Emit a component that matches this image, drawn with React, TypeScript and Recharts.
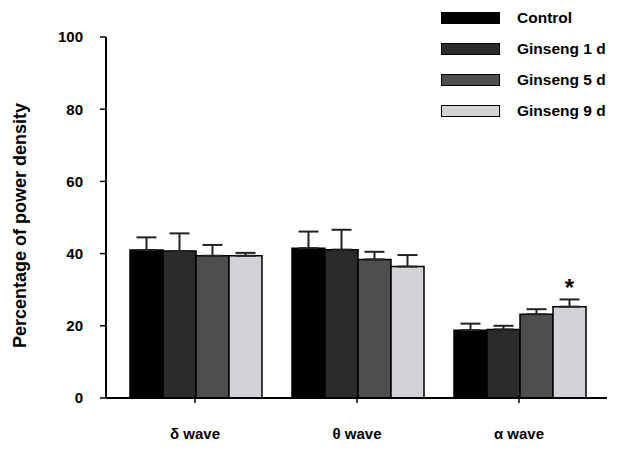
import { Bar, BarChart, ErrorBar, LabelList, XAxis, YAxis } from "recharts"

const categories = ["δ wave", "θ wave", "α wave"]

const control = [41.0, 41.5, 18.8]
const ginseng1 = [40.7, 41.1, 19.0]
const ginseng5 = [39.4, 38.4, 23.2]
const ginseng9 = [39.4, 36.4, 25.3]

// upper SEM only, the graph draws half error bars
const controlErr = [3.5, 4.6, 1.8]
const ginseng1Err = [4.9, 5.5, 1.0]
const ginseng5Err = [3.0, 2.1, 1.4]
const ginseng9Err = [0.8, 3.2, 2.0]

const marks = ["", "", "*"]

const yTicks = [0, 20, 40, 60, 80, 100]

const series = [
  { key: "control", name: "Control", fill: "#000000" },
  { key: "g1", name: "Ginseng 1 d", fill: "#2b2b2b" },
  { key: "g5", name: "Ginseng 5 d", fill: "#4e4e4e" },
  { key: "g9", name: "Ginseng 9 d", fill: "#d2d3d6" },
]

const data = categories.map((name, i) => ({
  name,
  control: control[i],
  g1: ginseng1[i],
  g5: ginseng5[i],
  g9: ginseng9[i],
  controlErr: [0, controlErr[i]],
  g1Err: [0, ginseng1Err[i]],
  g5Err: [0, ginseng5Err[i]],
  g9Err: [0, ginseng9Err[i]],
  mark: marks[i],
}))

const font = "Liberation Sans, Arial, sans-serif"

// legend drawn outside the chart so it doesn't eat plot space
function LegendBox() {
  return (
    <div style={{ position: "absolute", left: 441, top: 2, fontFamily: font }}>
      {series.map((s) => (
        <div key={s.key} style={{ display: "flex", alignItems: "center", height: 31 }}>
          <div
            style={{
              width: 57,
              height: 10,
              background: s.fill,
              border: "1.5px solid #000",
              marginRight: 17,
            }}
          />
          <span style={{ fontSize: 15.5, fontWeight: "bold", color: "#000" }}>{s.name}</span>
        </div>
      ))}
    </div>
  )
}

function YLabel(props: any) {
  const { viewBox } = props
  const cx = viewBox.x - 26
  const cy = viewBox.y + viewBox.height / 2 + 8
  return (
    <text
      x={cx}
      y={cy}
      transform={`rotate(-90, ${cx}, ${cy})`}
      textAnchor="middle"
      dominantBaseline="central"
      fontFamily={font}
      fontWeight="bold"
      fontSize={18}
      fill="#000"
    >
      Percentage of power density
    </text>
  )
}

function Star(props: any) {
  const { x, y, width, value } = props
  if (!value) return null
  return (
    <text
      x={x + width / 2}
      y={y - 11}
      textAnchor="middle"
      fontFamily={font}
      fontWeight="bold"
      fontSize={24}
      fill="#000"
    >
      {value}
    </text>
  )
}

export default function App() {
  return (
    <div style={{ position: "absolute", left: 0, top: 0, width: 622, height: 453, background: "#fff" }}>
      <BarChart
        width={622}
        height={453}
        data={data}
        margin={{ top: 37, right: 15, bottom: 10, left: 46 }}
        barCategoryGap={16}
        barGap={0}
      >
        <XAxis
          dataKey="name"
          padding={{ left: 8, right: 7 }}
          height={45}
          tickSize={5}
          tickMargin={25}
          stroke="#000"
          axisLine={{ stroke: "#000", strokeWidth: 2 }}
          tickLine={{ stroke: "#000", strokeWidth: 1.5 }}
          tick={{ fill: "#000", fontSize: 15, fontWeight: "bold", fontFamily: font }}
        />
        <YAxis
          domain={[0, 100]}
          ticks={yTicks}
          width={60}
          tickSize={6}
          tickMargin={17}
          axisLine={{ stroke: "#000", strokeWidth: 2 }}
          tickLine={{ stroke: "#000", strokeWidth: 1.5 }}
          tick={{ fill: "#000", fontSize: 15, fontWeight: "bold", fontFamily: font }}
          label={<YLabel />}
        />
        {series.map((s) => (
          <Bar
            key={s.key}
            dataKey={s.key}
            name={s.name}
            fill={s.fill}
            stroke="#000"
            strokeWidth={1.5}
            isAnimationActive={false}
          >
            <ErrorBar dataKey={`${s.key}Err`} width={10} strokeWidth={2} stroke="#222" direction="y" />
            {s.key === "g9" && <LabelList dataKey="mark" content={<Star />} />}
          </Bar>
        ))}
      </BarChart>
      <LegendBox />
    </div>
  )
}
